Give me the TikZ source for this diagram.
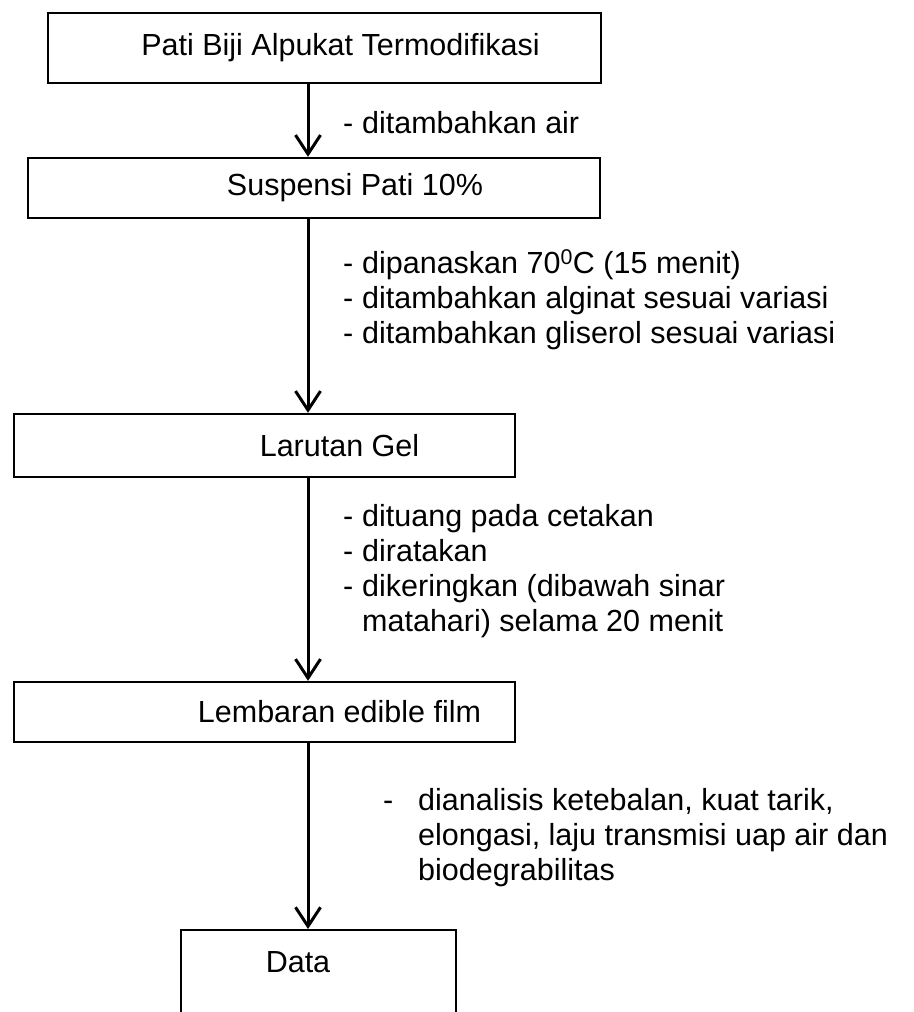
\documentclass[tikz,border=0pt]{standalone}
\usepackage{fontspec}
\setmainfont{Liberation Sans}
\usetikzlibrary{arrows.meta}

\tikzset{
  box/.style={draw, line width=2.4pt, inner sep=0pt, font=\fontsize{30.5}{35}\selectfont},
  flow/.style={line width=3pt, -{Straight Barb[length=19pt, width=25pt, line width=3pt]}},
  note/.style={anchor=west, align=left, inner sep=0pt, font=\fontsize{30.5}{35}\selectfont},
}
\newcommand{\stepdash}{\makebox[19pt][l]{-}}

\begin{document}
\begin{tikzpicture}[x=1pt,y=-1pt]
\useasboundingbox (0,0) rectangle (913,1012);
% boxes
\node[box, minimum width=553pt, minimum height=70pt] (pati) at (324.5,48) {\hspace*{32pt}Pati Biji Alpukat Termodifikasi};
\node[box, minimum width=572pt, minimum height=60pt] (suspensi) at (314,188) {\hspace*{82pt}Suspensi Pati 10\%};
\node[box, minimum width=501pt, minimum height=63pt] (gel) at (264.5,445.5) {\hspace*{150pt}Larutan Gel};
\node[box, minimum width=501pt, minimum height=60pt] (film) at (264.5,712) {\hspace*{150pt}Lembaran edible film};
\node[box, minimum width=275pt, minimum height=120pt, anchor=north west] (data) at (180,929) {};
\node[font=\fontsize{30.5}{35}\selectfont] (datatext) at (298,962) {Data};
% arrows
\draw[flow] (pati.south -| 308,0) -- (suspensi.north -| 308,0);
\draw[flow] (suspensi.south -| 308,0) -- (gel.north -| 308,0);
\draw[flow] (gel.south -| 308,0) -- (film.north -| 308,0);
\draw[flow] (film.south -| 308,0) -- (data.north -| 308,0);
% notes
\node[note] (air) at (343,123) {\stepdash ditambahkan air};
\node[note] (panas) at (343,300) {\stepdash dipanaskan 70\textsuperscript{0}C (15 menit)\\
  \stepdash ditambahkan alginat sesuai variasi\\
  \stepdash ditambahkan gliserol sesuai variasi};
\node[note] (cetak) at (343,571) {\stepdash dituang pada cetakan\\
  \stepdash diratakan\\
  \stepdash dikeringkan (dibawah sinar\\
  \hspace*{19pt}matahari) selama 20 menit};
\node[note] (analisis) at (383,838) {\makebox[35pt][l]{-}dianalisis ketebalan, kuat tarik,\\
  \hspace*{35pt}elongasi, laju transmisi uap air dan\\
  \hspace*{35pt}biodegrabilitas};
\end{tikzpicture}
\end{document}
